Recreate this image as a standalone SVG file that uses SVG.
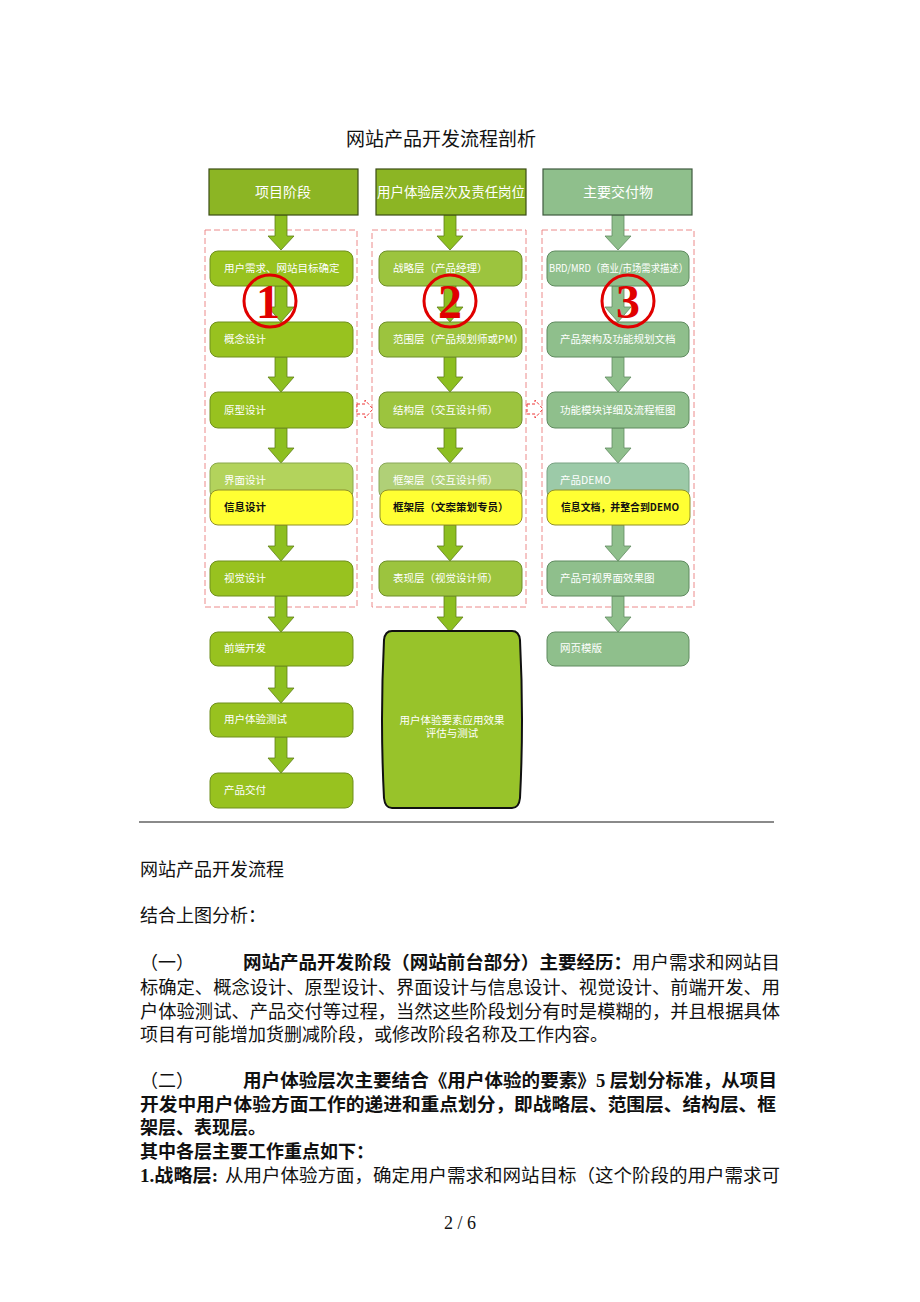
<svg xmlns="http://www.w3.org/2000/svg" width="920" height="1302" viewBox="0 0 920 1302">
<style>
.title{font-family:"Liberation Sans","Noto Sans CJK SC",sans-serif;font-size:19px;fill:#111}
.hd{font-family:"Noto Sans CJK SC",sans-serif;font-size:14px;fill:#fff}
.nt{font-family:"Noto Sans CJK SC",sans-serif;font-size:10.5px;fill:#fff}
.yt{font-family:"Noto Sans CJK SC",sans-serif;font-size:10.5px;fill:#111;font-weight:bold}
.g1{fill:#98c21f;stroke:#6f8f1c;stroke-width:1}
.g1l{fill:#b3d35c;stroke:#8aa84a;stroke-width:1}
.g2{fill:#9cc43e;stroke:#6f8f2a;stroke-width:1}
.g2l{fill:#b0d077;stroke:#8aa85a;stroke-width:1}
.g3{fill:#8fbf8c;stroke:#5f8a5f;stroke-width:1}
.g3l{fill:#9ccaa8;stroke:#79a283;stroke-width:1}
.h12{fill:#8cb524;stroke:#3b4d14;stroke-width:1.2}
.h3{fill:#8fbf8c;stroke:#3f5a3f;stroke-width:1.2}
.yl{fill:#ffff33;stroke:#8f8f2a;stroke-width:1}
.dash{fill:none;stroke:#ec8a8a;stroke-width:1;stroke-dasharray:6 3}
.ar1{fill:#8dbf20;stroke:#5f7f18;stroke-width:0.8}
.ar3{fill:#8fbf8c;stroke:#5f8a5f;stroke-width:0.8}
.har{fill:#fff;stroke:#e33;stroke-width:1;stroke-dasharray:3 2}
.num{fill:none;stroke:#e00000;stroke-width:3}
.numt{font-family:"Liberation Serif",serif;font-weight:bold;font-size:48px;fill:#e00000}
.body{font-family:"Liberation Serif","Noto Sans CJK SC",serif;font-size:18px;fill:#111}
.b{font-weight:bold}
</style>

<text class="title" x="441" y="146" text-anchor="middle">网站产品开发流程剖析</text>

<g id="dashed-boxes">
<rect class="dash" x="205" y="230" width="152" height="377"/>
<rect class="dash" x="372" y="230" width="154" height="377"/>
<rect class="dash" x="542" y="230" width="152" height="377"/>
</g>

<g id="connectors">
<path class="ar1" d="M275,215 L287,215 L287,236 L294,236 L281,250 L268,236 L275,236 Z"/>
<path class="ar1" d="M444,215 L456,215 L456,236 L463,236 L450,250 L437,236 L444,236 Z"/>
<path class="ar3" d="M612,215 L624,215 L624,236 L631,236 L618,250 L605,236 L612,236 Z"/>
<path class="ar1" d="M275,286 L287,286 L287,307 L294,307 L281,322 L268,307 L275,307 Z"/>
<path class="ar1" d="M275,357 L287,357 L287,377 L294,377 L281,392 L268,377 L275,377 Z"/>
<path class="ar1" d="M275,428 L287,428 L287,448 L294,448 L281,463 L268,448 L275,448 Z"/>
<path class="ar1" d="M275,525 L287,525 L287,546 L294,546 L281,561 L268,546 L275,546 Z"/>
<path class="ar1" d="M275,596 L287,596 L287,617 L294,617 L281,632 L268,617 L275,617 Z"/>
<path class="ar1" d="M275,666 L287,666 L287,688 L294,688 L281,703 L268,688 L275,688 Z"/>
<path class="ar1" d="M275,737 L287,737 L287,758 L294,758 L281,773 L268,758 L275,758 Z"/>
<path class="ar1" d="M444,286 L456,286 L456,307 L463,307 L450,322 L437,307 L444,307 Z"/>
<path class="ar1" d="M444,357 L456,357 L456,377 L463,377 L450,392 L437,377 L444,377 Z"/>
<path class="ar1" d="M444,428 L456,428 L456,448 L463,448 L450,463 L437,448 L444,448 Z"/>
<path class="ar1" d="M444,525 L456,525 L456,546 L463,546 L450,561 L437,546 L444,546 Z"/>
<path class="ar1" d="M444,596 L456,596 L456,617 L463,617 L450,632 L437,617 L444,617 Z"/>
<path class="ar3" d="M612,286 L624,286 L624,307 L631,307 L618,322 L605,307 L612,307 Z"/>
<path class="ar3" d="M612,357 L624,357 L624,377 L631,377 L618,392 L605,377 L612,377 Z"/>
<path class="ar3" d="M612,428 L624,428 L624,448 L631,448 L618,463 L605,448 L612,448 Z"/>
<path class="ar3" d="M612,525 L624,525 L624,546 L631,546 L618,561 L605,546 L612,546 Z"/>
<path class="ar3" d="M612,596 L624,596 L624,617 L631,617 L618,632 L605,617 L612,617 Z"/>
<path class="har" d="M357,404 L365,404 L365,400 L373,409 L365,418 L365,414 L357,414 Z"/>
<path class="har" d="M527,404 L535,404 L535,400 L543,409 L535,418 L535,414 L527,414 Z"/>
</g>

<g id="header-1"><rect class="h12" x="209" y="169" width="149" height="46"/><text class="hd" x="283" y="197" text-anchor="middle">项目阶段</text></g>
<g id="header-2"><rect class="h12" x="376" y="169" width="150" height="46"/><text class="hd" x="377" y="197" textLength="148" lengthAdjust="spacingAndGlyphs">用户体验层次及责任岗位</text></g>
<g id="header-3"><rect class="h3" x="543" y="169" width="149" height="46"/><text class="hd" x="618" y="197" text-anchor="middle">主要交付物</text></g>

<g id="c1n1"><rect class="g1" x="210" y="251" width="143" height="35" rx="8"/><text class="nt" x="224" y="272">用户需求、网站目标确定</text></g>
<g id="c1n2"><rect class="g1" x="210" y="322" width="143" height="35" rx="8"/><text class="nt" x="224" y="343">概念设计</text></g>
<g id="c1n3"><rect class="g1" x="210" y="392" width="143" height="36" rx="8"/><text class="nt" x="224" y="414">原型设计</text></g>
<g id="c1n4"><rect class="g1l" x="210" y="463" width="143" height="36" rx="8"/><text class="nt" x="224" y="484">界面设计</text></g>
<g id="c1n5"><rect class="yl" x="210" y="490" width="143" height="35" rx="8"/><text class="yt" x="224" y="511">信息设计</text></g>
<g id="c1n6"><rect class="g1" x="210" y="561" width="143" height="35" rx="8"/><text class="nt" x="224" y="582">视觉设计</text></g>
<g id="c1n7"><rect class="g1" x="210" y="632" width="143" height="34" rx="8"/><text class="nt" x="224" y="652">前端开发</text></g>
<g id="c1n8"><rect class="g1" x="210" y="703" width="143" height="34" rx="8"/><text class="nt" x="224" y="723">用户体验测试</text></g>
<g id="c1n9"><rect class="g1" x="210" y="773" width="143" height="35" rx="8"/><text class="nt" x="224" y="794">产品交付</text></g>

<g id="c2n1"><rect class="g2" x="379" y="251" width="143" height="35" rx="8"/><text class="nt" x="393" y="272">战略层（产品经理）</text></g>
<g id="c2n2"><rect class="g2" x="379" y="322" width="143" height="35" rx="8"/><text class="nt" x="393" y="343">范围层（产品规划师或PM）</text></g>
<g id="c2n3"><rect class="g2" x="379" y="392" width="143" height="36" rx="8"/><text class="nt" x="393" y="414">结构层（交互设计师）</text></g>
<g id="c2n4"><rect class="g2l" x="379" y="463" width="143" height="36" rx="8"/><text class="nt" x="393" y="484">框架层（交互设计师）</text></g>
<g id="c2n5"><rect class="yl" x="380" y="490" width="142" height="35" rx="8"/><text class="yt" x="393" y="511">框架层（文案策划专员）</text></g>
<g id="c2n6"><rect class="g2" x="379" y="561" width="143" height="35" rx="8"/><text class="nt" x="393" y="582">表现层（视觉设计师）</text></g>
<g id="c2n7"><path d="M392,631 L512,631 Q519,631 520,640 Q524,720 520,798 Q519,808 512,808 L392,808 Q385,808 384,798 Q380,720 384,640 Q385,631 392,631 Z" fill="#98c32a" stroke="#111" stroke-width="2"/><text class="nt" x="452" y="724" text-anchor="middle">用户体验要素应用效果</text><text class="nt" x="452" y="737" text-anchor="middle">评估与测试</text></g>

<g id="c3n1"><rect class="g3" x="547" y="251" width="142" height="35" rx="8"/><text class="nt" x="549" y="272" textLength="139" lengthAdjust="spacingAndGlyphs">BRD/MRD（商业/市场需求描述）</text></g>
<g id="c3n2"><rect class="g3" x="547" y="322" width="142" height="35" rx="8"/><text class="nt" x="560" y="343">产品架构及功能规划文档</text></g>
<g id="c3n3"><rect class="g3" x="547" y="392" width="142" height="36" rx="8"/><text class="nt" x="560" y="414">功能模块详细及流程框图</text></g>
<g id="c3n4"><rect class="g3l" x="547" y="463" width="142" height="36" rx="8"/><text class="nt" x="560" y="484">产品DEMO</text></g>
<g id="c3n5"><rect class="yl" x="547" y="490" width="143" height="35" rx="8"/><text class="yt" x="561" y="511" textLength="118" lengthAdjust="spacingAndGlyphs">信息文档，并整合到DEMO</text></g>
<g id="c3n6"><rect class="g3" x="547" y="561" width="142" height="35" rx="8"/><text class="nt" x="560" y="582">产品可视界面效果图</text></g>
<g id="c3n7"><rect class="g3" x="547" y="632" width="142" height="34" rx="8"/><text class="nt" x="560" y="652">网页模版</text></g>

<g id="markers">
<circle class="num" cx="270" cy="301" r="26"/><text class="numt" x="268" y="318" text-anchor="middle">1</text>
<circle class="num" cx="450" cy="301" r="26"/><text class="numt" x="450" y="318" text-anchor="middle">2</text>
<circle class="num" cx="628" cy="301" r="26"/><text class="numt" x="628" y="318" text-anchor="middle">3</text>
</g>

<line x1="139" y1="822" x2="774" y2="822" stroke="#8a8a8a" stroke-width="2"/>

<g id="body-text" class="body">
<text x="140" y="876">网站产品开发流程</text>
<text x="140" y="922">结合上图分析：</text>
<text x="140" y="969">（一）</text>
<text x="243" y="969" class="b" textLength="389" lengthAdjust="spacingAndGlyphs">网站产品开发阶段（网站前台部分）主要经历：</text>
<text x="632" y="969" textLength="148" lengthAdjust="spacingAndGlyphs">用户需求和网站目</text>
<text x="140" y="994" textLength="640" lengthAdjust="spacingAndGlyphs">标确定、概念设计、原型设计、界面设计与信息设计、视觉设计、前端开发、用</text>
<text x="140" y="1018" textLength="640" lengthAdjust="spacingAndGlyphs">户体验测试、产品交付等过程，当然这些阶段划分有时是模糊的，并且根据具体</text>
<text x="140" y="1041">项目有可能增加货删减阶段，或修改阶段名称及工作内容。</text>
<text x="140" y="1087">（二）</text>
<text x="243" y="1087" class="b" textLength="534" lengthAdjust="spacingAndGlyphs">用户体验层次主要结合《用户体验的要素》5 层划分标准，从项目</text>
<text x="140" y="1111" class="b" textLength="636" lengthAdjust="spacingAndGlyphs">开发中用户体验方面工作的递进和重点划分，即战略层、范围层、结构层、框</text>
<text x="140" y="1134" class="b">架层、表现层。</text>
<text x="140" y="1158" class="b">其中各层主要工作重点如下：</text>
<text x="140" y="1182" class="b" textLength="78" lengthAdjust="spacingAndGlyphs">1.战略层:</text>
<text x="225" y="1182" textLength="555" lengthAdjust="spacingAndGlyphs">从用户体验方面，确定用户需求和网站目标（这个阶段的用户需求可</text>
<text x="460" y="1229" text-anchor="middle">2 / 6</text>
</g>
</svg>
